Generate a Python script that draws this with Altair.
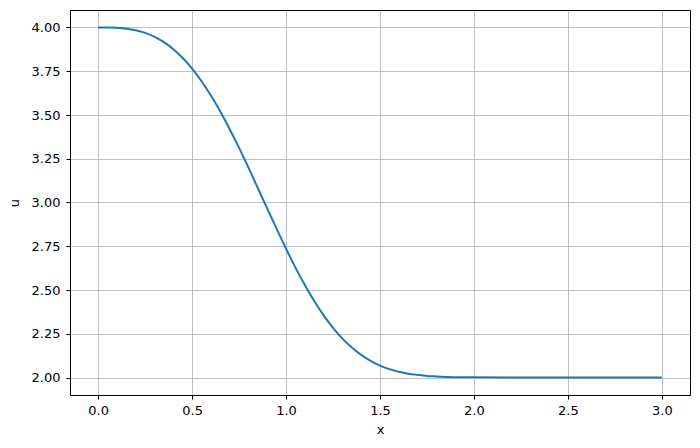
import altair as alt
import pandas as pd

xs = [0.0, 0.05, 0.1, 0.15, 0.2, 0.25, 0.3, 0.35, 0.4, 0.45, 0.5, 0.55, 0.6, 0.65,
      0.7, 0.75, 0.8, 0.85, 0.9, 0.95, 1.0, 1.05, 1.1, 1.15, 1.2, 1.25, 1.3, 1.35,
      1.4, 1.45, 1.5, 1.55, 1.6, 1.65, 1.7, 1.75, 1.8, 1.9, 2.0, 2.2, 2.5, 3.0]
us = [4.000, 4.000, 3.998, 3.993, 3.984, 3.969, 3.947, 3.916, 3.876, 3.826, 3.765,
      3.693, 3.611, 3.520, 3.419, 3.312, 3.199, 3.082, 2.965, 2.849, 2.736, 2.628,
      2.528, 2.437, 2.355, 2.284, 2.222, 2.171, 2.129, 2.095, 2.068, 2.048, 2.033,
      2.022, 2.015, 2.009, 2.006, 2.002, 2.001, 2.000, 2.000, 2.000]

df = pd.DataFrame({"x": xs, "u": us})

FONT = "DejaVu Sans"

chart = alt.Chart(df).mark_line(color="#1f77b4", strokeWidth=2, interpolate="monotone").encode(
    x=alt.X("x:Q", scale=alt.Scale(domain=[-0.15, 3.15], nice=False, zero=False),
            axis=alt.Axis(values=[0, 0.5, 1.0, 1.5, 2.0, 2.5, 3.0], format=".1f", title="x")),
    y=alt.Y("u:Q", scale=alt.Scale(domain=[1.9, 4.1], nice=False, zero=False),
            axis=alt.Axis(values=[2.0, 2.25, 2.5, 2.75, 3.0, 3.25, 3.5, 3.75, 4.0], format=".2f", title="u")),
).properties(
    width=620, height=385,
    autosize=alt.AutoSizeParams(type="none"),
    padding={"left": 62, "top": 2, "right": 2, "bottom": 45},
).configure_view(
    stroke="black", strokeWidth=1
).configure_axis(
    grid=True, gridColor="#b0b0b0", gridWidth=0.8, gridOpacity=1,
    domainColor="black", domainWidth=1,
    tickColor="black", tickSize=4, tickWidth=1,
    labelFont=FONT, labelFontSize=13, labelColor="black",
    titleFont=FONT, titleFontSize=13, titleFontWeight="normal", titleColor="black",
    labelFlush=False,
).configure_axisX(
    labelPadding=5, titlePadding=6
).configure_axisY(
    labelPadding=6, titlePadding=10
)

chart.save("out.html", embed_options={"renderer": "svg", "actions": False})
